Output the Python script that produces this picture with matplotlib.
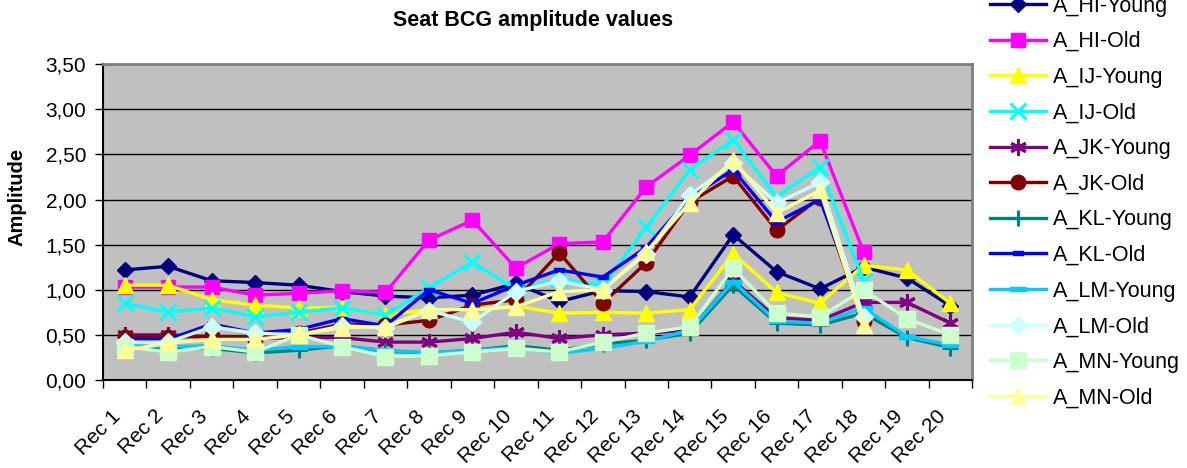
import matplotlib.pyplot as plt
import matplotlib.transforms as mtransforms
import numpy as np

nan = np.nan

# categories and series
recs = ["Rec %d" % i for i in range(1, 21)]

hi_young = [1.22, 1.26, 1.10, 1.08, 1.05, 0.98, 0.93, 0.91, 0.94, 1.07, 0.87, 0.99, 0.98, 0.92, 1.61, 1.20, 1.01, 1.25, 1.13, 0.82]
hi_old = [1.03, 1.03, 1.03, 0.94, 0.96, 0.99, 0.97, 1.55, 1.77, 1.24, 1.51, 1.53, 2.14, 2.49, 2.86, 2.26, 2.65, 1.42, nan, nan]
ij_young = [1.05, 1.05, 0.89, 0.83, 0.80, 0.80, 0.72, 0.78, 0.78, 0.82, 0.74, 0.75, 0.74, 0.78, 1.40, 0.97, 0.85, 1.27, 1.22, 0.85]
ij_old = [0.85, 0.75, 0.80, 0.70, 0.75, 0.80, 0.72, 1.02, 1.31, 1.00, 1.12, 1.05, 1.69, 2.33, 2.66, 2.03, 2.36, 1.10, nan, nan]
jk_young = [0.50, 0.50, 0.48, 0.46, 0.47, 0.47, 0.42, 0.42, 0.46, 0.53, 0.46, 0.50, 0.52, 0.55, 1.10, 0.69, 0.66, 0.86, 0.86, 0.63]
jk_old = [0.48, 0.48, 0.48, 0.48, 0.52, 0.62, 0.61, 0.66, 0.83, 0.89, 1.41, 0.85, 1.30, 1.97, 2.26, 1.66, 2.02, 0.65, nan, nan]
kl_young = [0.36, 0.35, 0.35, 0.30, 0.33, 0.38, 0.32, 0.30, 0.33, 0.38, 0.33, 0.40, 0.44, 0.52, 1.05, 0.63, 0.61, 0.74, 0.47, 0.36]
kl_old = [0.45, 0.45, 0.62, 0.52, 0.56, 0.68, 0.60, 1.00, 0.85, 1.05, 1.22, 1.14, 1.47, 2.02, 2.33, 1.75, 2.00, 0.72, nan, nan]
lm_young = [0.38, 0.37, 0.38, 0.33, 0.37, 0.37, 0.33, 0.30, 0.33, 0.36, 0.30, 0.35, 0.43, 0.55, 1.09, 0.65, 0.63, 0.80, 0.48, 0.39]
lm_old = [0.42, 0.42, 0.59, 0.52, 0.50, 0.60, 0.58, 0.77, 0.64, 0.98, 1.10, 1.00, 1.40, 2.05, 2.40, 1.96, 2.19, 0.70, nan, nan]
mn_young = [0.37, 0.31, 0.37, 0.31, 0.50, 0.37, 0.26, 0.27, 0.31, 0.35, 0.31, 0.42, 0.52, 0.59, 1.24, 0.74, 0.70, 1.00, 0.68, 0.50]
mn_old = [0.33, 0.41, 0.45, 0.45, 0.50, 0.58, 0.59, 0.78, 0.78, 0.81, 0.98, 1.00, 1.42, 1.96, 2.44, 1.85, 2.10, 0.61, nan, nan]

short_dash = [(-1, -0.45), (1, -0.45), (1, 0.45), (-1, 0.45), (-1, -0.45)]
long_dash = [(-1, -0.3), (1, -0.3), (1, 0.3), (-1, 0.3), (-1, -0.3)]

series = [
    ("A_HI-Young", hi_young, "#000080", "D", 8),
    ("A_HI-Old", hi_old, "#FF00FF", "s", 9.5),
    ("A_IJ-Young", ij_young, "#FFFF00", "^", 11),
    ("A_IJ-Old", ij_old, "#00FFFF", "x", 11),
    ("A_JK-Young", jk_young, "#800080", (6, 2, 0), 12),
    ("A_JK-Old", jk_old, "#800000", "o", 10.5),
    ("A_KL-Young", kl_young, "#008080", "+", 11),
    ("A_KL-Old", kl_old, "#0000FF", short_dash, 7),
    ("A_LM-Young", lm_young, "#00CCFF", long_dash, 11),
    ("A_LM-Old", lm_old, "#CCFFFF", "D", 9),
    ("A_MN-Young", mn_young, "#CCFFCC", "s", 11),
    ("A_MN-Old", mn_old, "#FFFF99", "^", 11),
]

plt.rcParams["font.family"] = ["Liberation Sans", "DejaVu Sans"]

fig = plt.figure(figsize=(11.87, 4.68), dpi=100)
ax = fig.add_axes([0.0868, 0.188, 0.7322, 0.675])
ax.set_facecolor("#C0C0C0")

x = np.arange(len(recs))
for name, vals, c, m, ms in series:
    mew = 2.2 if m in ("x", "+") or isinstance(m, tuple) else 1
    ax.plot(x, vals, color=c, marker=m, markersize=ms, markeredgewidth=mew,
            markerfacecolor=c, markeredgecolor=c, linewidth=2.4, label=name)

ax.set_xlim(-0.5, len(recs) - 0.5)
ax.set_ylim(0, 3.5)
yt = np.arange(0, 3.51, 0.5)
ax.set_yticks(yt)
ax.set_yticklabels([("%.2f" % v).replace(".", ",") for v in yt], fontsize=15)
ax.grid(axis="y", color="black", linewidth=1)
ax.set_axisbelow(True)

ax.set_xticks(x)
ax.set_xticklabels(recs, rotation=45, ha="right", rotation_mode="anchor", fontsize=15)
ax.tick_params(axis="x", length=0, pad=19)
shift = mtransforms.ScaledTranslation(-14 / 100, 0, fig.dpi_scale_trans)
for lab in ax.get_xticklabels():
    lab.set_transform(lab.get_transform() + shift)
ax.set_xticks(np.arange(-0.5, len(recs)), minor=True)
ax.tick_params(axis="x", which="minor", length=6, width=1, direction="out", color="black")
ax.tick_params(axis="y", length=6, width=1, direction="out", pad=6)

for s in ("top", "right"):
    ax.spines[s].set_color("#808080")
    ax.spines[s].set_linewidth(2)
for s in ("left", "bottom"):
    ax.spines[s].set_color("black")
    ax.spines[s].set_linewidth(1.5)

ax.set_ylabel("Amplitude", fontsize=14.5, fontweight="bold")
ax.yaxis.set_label_coords(-0.0875, 0.58)
fig.text(0.449, 0.957, "Seat BCG amplitude values", ha="center", va="center",
         fontsize=15.5, fontweight="bold")

fig.legend(loc="upper left", bbox_to_anchor=(0.827, 1.028), frameon=False,
           fontsize=15.5, handlelength=2.6, labelspacing=0.68, handletextpad=0.3,
           borderaxespad=0)

fig.savefig("out.png", dpi=100)
